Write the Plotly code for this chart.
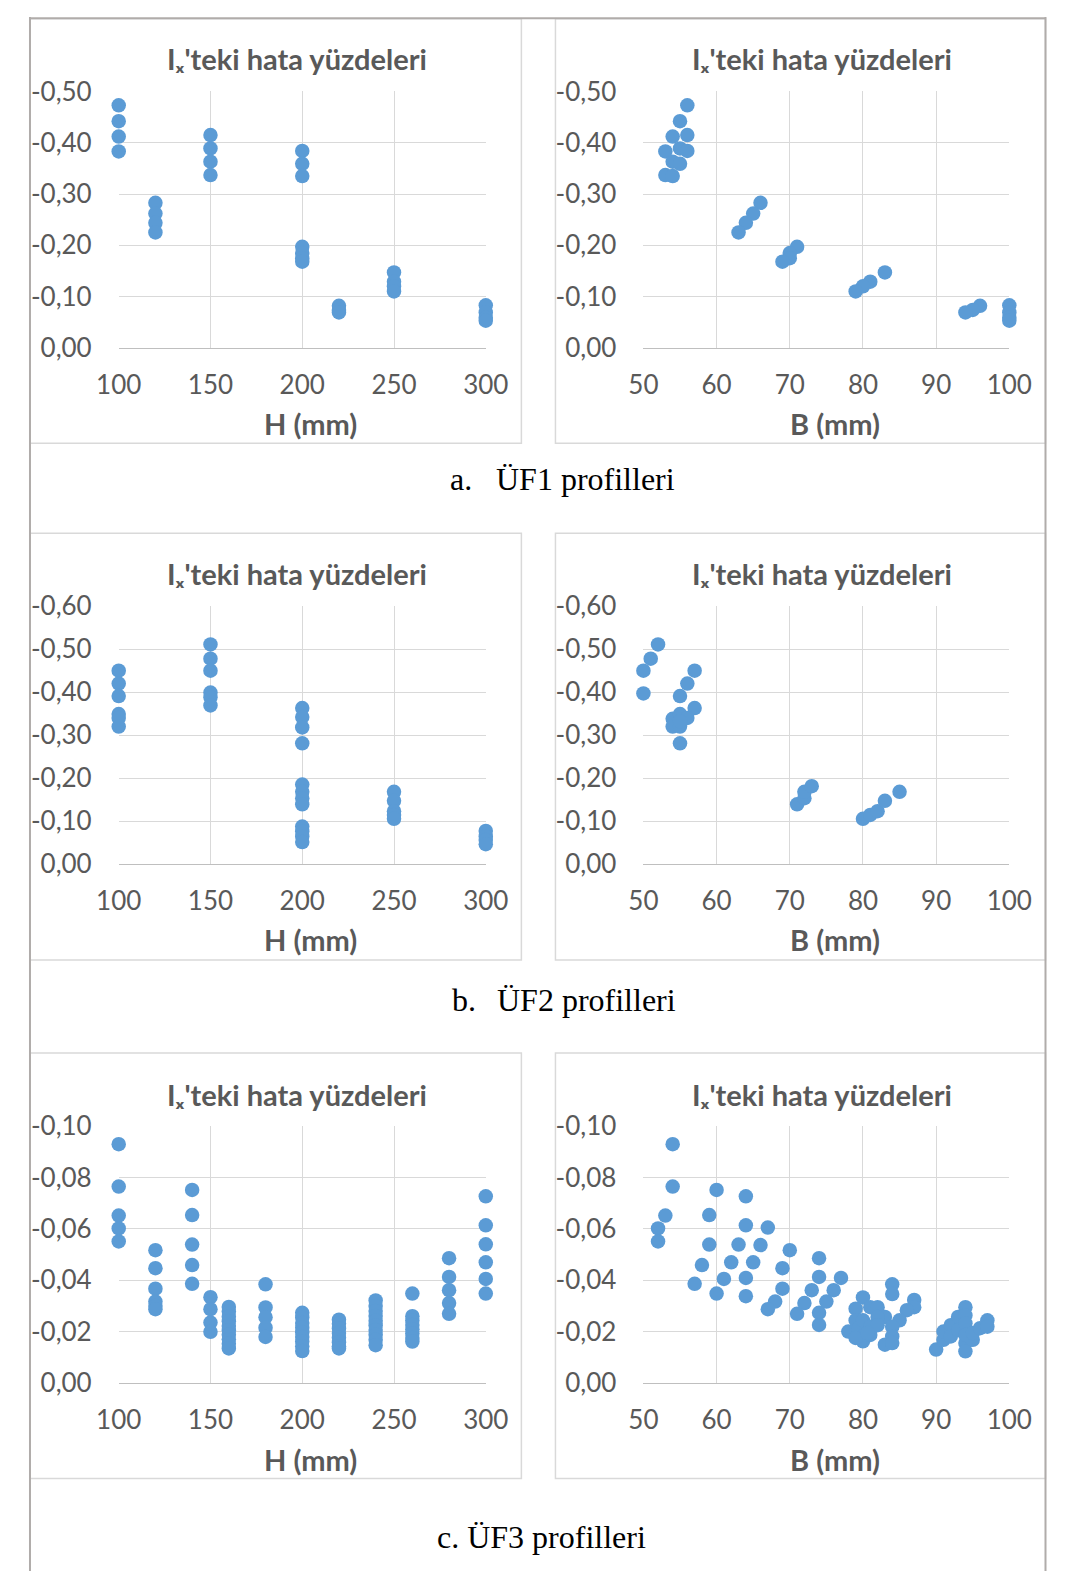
import plotly.graph_objects as go

W, H = 1073, 1586

# ---------------- data ----------------
# ÜF1 profiles (same profiles shown against H and against B)
uf1_H = [100, 100, 100, 100, 120, 120, 120, 120, 150, 150, 150, 150,
         200, 200, 200, 200, 200, 200, 200, 220, 220, 220,
         250, 250, 250, 250, 300, 300, 300, 300]
uf1_B = [56, 55, 54, 53, 66, 65, 64, 63, 56, 55, 54, 53,
         56, 55, 54, 71, 70, 70, 69, 96, 95, 94,
         83, 81, 80, 79, 100, 100, 100, 100]
uf1_err = [-0.473, -0.442, -0.412, -0.383, -0.283, -0.262, -0.244, -0.225,
           -0.415, -0.389, -0.363, -0.337, -0.384, -0.359, -0.335,
           -0.197, -0.185, -0.175, -0.168, -0.082, -0.074, -0.069,
           -0.147, -0.129, -0.120, -0.110, -0.083, -0.069, -0.059, -0.053]

# ÜF2 profiles vs H
uf2_H = [100, 100, 100, 100, 100, 100,
         150, 150, 150, 150, 150, 150,
         200, 200, 200, 200, 200, 200, 200, 200, 200, 200, 200, 200,
         250, 250, 250, 250, 250,
         300, 300, 300, 300]
uf2_H_err = [-0.450, -0.420, -0.391, -0.349, -0.340, -0.320,
             -0.511, -0.478, -0.450, -0.399, -0.388, -0.369,
             -0.363, -0.342, -0.318, -0.281, -0.185, -0.168, -0.153, -0.139,
             -0.087, -0.076, -0.064, -0.051,
             -0.168, -0.147, -0.123, -0.114, -0.105,
             -0.077, -0.064, -0.056, -0.046]

# ÜF2 profiles vs B
uf2_B = [52, 51, 50, 50, 57, 56, 55, 57, 54, 55, 56, 54, 55, 55, 55,
         71, 72, 72, 73, 80, 81, 82, 83, 85]
uf2_B_err = [-0.511, -0.478, -0.450, -0.397, -0.450, -0.420, -0.391, -0.363,
             -0.338, -0.349, -0.340, -0.320, -0.320, -0.332, -0.281,
             -0.139, -0.153, -0.168, -0.181, -0.105, -0.114, -0.123, -0.147, -0.168]

# ÜF3 profiles vs H
uf3_H = ([100] * 5 + [120] * 6 + [140] * 5 + [150] * 4 + [160] * 10 + [180] * 5 +
         [200] * 9 + [220] * 8 + [240] * 10 + [260] * 8 + [280] * 5 + [300] * 6)
uf3_H_err = [-0.0930, -0.0765, -0.0652, -0.0602, -0.0551,
             -0.0517, -0.0447, -0.0367, -0.0317, -0.0300, -0.0287,
             -0.0752, -0.0654, -0.0539, -0.0459, -0.0386,
             -0.0334, -0.0287, -0.0235, -0.0199,
             -0.0296, -0.0278, -0.0258, -0.0240, -0.0222, -0.0205, -0.0188, -0.0170, -0.0152, -0.0134,
             -0.0384, -0.0294, -0.0256, -0.0215, -0.0179,
             -0.0273, -0.0255, -0.0233, -0.0215, -0.0197, -0.0179, -0.0161, -0.0143, -0.0124,
             -0.0246, -0.0230, -0.0212, -0.0194, -0.0176, -0.0158, -0.0143, -0.0134,
             -0.0321, -0.0300, -0.0280, -0.0261, -0.0242, -0.0224, -0.0206, -0.0188, -0.0168, -0.0147,
             -0.0348, -0.0260, -0.0243, -0.0226, -0.0209, -0.0192, -0.0175, -0.0161,
             -0.0486, -0.0413, -0.0361, -0.0311, -0.0269,
             -0.0727, -0.0614, -0.0540, -0.0470, -0.0405, -0.0348]

# ÜF3 profiles vs B
uf3_B = [54, 54, 53, 52, 52,
         60, 59, 59, 58, 57,
         64, 64, 63, 62, 61, 60,
         67, 66, 65, 64, 64,
         70, 69, 69, 68, 67,
         74, 74, 73, 72, 71,
         77, 76, 75, 74, 74,
         84, 84, 80, 79, 81, 82, 83, 87, 87, 86, 85, 84, 84, 83, 84,
         78, 79, 79.4, 80, 80, 80, 81, 81, 82, 82, 79, 80.6,
         90, 91, 91, 92, 92, 93, 93, 94, 94, 94, 94, 94, 94, 95, 95, 96, 97, 97]
uf3_B_err = [-0.0930, -0.0765, -0.0652, -0.0602, -0.0551,
             -0.0752, -0.0654, -0.0539, -0.0459, -0.0386,
             -0.0727, -0.0614, -0.0539, -0.0470, -0.0405, -0.0348,
             -0.0605, -0.0537, -0.0470, -0.0409, -0.0338,
             -0.0517, -0.0447, -0.0367, -0.0317, -0.0287,
             -0.0486, -0.0413, -0.0361, -0.0311, -0.0269,
             -0.0409, -0.0361, -0.0317, -0.0273, -0.0226,
             -0.0384, -0.0346, -0.0333, -0.0289, -0.0295, -0.0295, -0.0257, -0.0323, -0.0295,
             -0.0283, -0.0244, -0.0219, -0.0181, -0.0149, -0.0155,
             -0.0200, -0.0244, -0.0213, -0.0244, -0.0181, -0.0162, -0.0219, -0.0187, -0.0257,
             -0.0225, -0.0175, -0.0194,
             -0.0130, -0.0168, -0.0200, -0.0225, -0.0181, -0.0257, -0.0206, -0.0295, -0.0263,
             -0.0232, -0.0155, -0.0123, -0.0187, -0.0168, -0.0194, -0.0213, -0.0244, -0.0219]

H_ticks = [100, 150, 200, 250, 300]
H_ticktext = ["100", "150", "200", "250", "300"]
B_ticks = [50, 60, 70, 80, 90, 100]
B_ticktext = ["50", "60", "70", "80", "90", "100"]
Y1_ticks = [0, -0.1, -0.2, -0.3, -0.4, -0.5]
Y1_ticktext = ["0,00", "-0,10", "-0,20", "-0,30", "-0,40", "-0,50"]
Y2_ticks = [0, -0.1, -0.2, -0.3, -0.4, -0.5, -0.6]
Y2_ticktext = ["0,00", "-0,10", "-0,20", "-0,30", "-0,40", "-0,50", "-0,60"]
Y3_ticks = [0, -0.02, -0.04, -0.06, -0.08, -0.10]
Y3_ticktext = ["0,00", "-0,02", "-0,04", "-0,06", "-0,08", "-0,10"]

chart_title = "Iₓ'teki hata yüzdeleri"
x_titles = ["H (mm)", "B (mm)"]
captions = [("a.", "ÜF1 profilleri"), ("b.", "ÜF2 profilleri"), ("c.", "ÜF3 profilleri")]

# ---------------- layout helpers (pixel geometry) ----------------
def fx(p):
    return p / W

def fy(p):
    return 1 - p / H

cols = [(100, 483.5), (648.2, 1030.5)]
rows = [(76, 337.7), (601.4, 864.4), (1132.1, 1394)]
title_y = [42, 568, 1099.5]
xtitle_y = [415, 941.2, 1471.7]
title_x = [286.7, 834.9]
xtitle_x = [300, 848]
frame_rows = [(1.7, 435), (527, 962.5), (1057.3, 1491.7)]
frame_cols = [(7.3, 520.7), (556.3, 1068.3)]
caption_y = [472, 1003.7, 1551]

panels = [
    (uf1_H, uf1_err, 0, 0, [100, 300], H_ticks, H_ticktext, [0, -0.5], Y1_ticks, Y1_ticktext),
    (uf1_B, uf1_err, 0, 1, [50, 100], B_ticks, B_ticktext, [0, -0.5], Y1_ticks, Y1_ticktext),
    (uf2_H, uf2_H_err, 1, 0, [100, 300], H_ticks, H_ticktext, [0, -0.6], Y2_ticks, Y2_ticktext),
    (uf2_B, uf2_B_err, 1, 1, [50, 100], B_ticks, B_ticktext, [0, -0.6], Y2_ticks, Y2_ticktext),
    (uf3_H, uf3_H_err, 2, 0, [100, 300], H_ticks, H_ticktext, [0, -0.1], Y3_ticks, Y3_ticktext),
    (uf3_B, uf3_B_err, 2, 1, [50, 100], B_ticks, B_ticktext, [0, -0.1], Y3_ticks, Y3_ticktext),
]

BLUE = "#5B9BD5"
GRID = "#D9D9D9"
TXT = "#595959"
FONT = "Lato"

fig = go.Figure()
layout = dict(
    width=W, height=H,
    margin=dict(l=0, r=0, t=0, b=0),
    paper_bgcolor="white", plot_bgcolor="white",
    showlegend=False,
    font=dict(family=FONT, color=TXT),
)
annotations = []
shapes = []
bold_font = dict(family=FONT, size=29, color=TXT, weight="bold")

for i, (xs, ys, r, c, xr, xt, xtt, yr, yt, ytt) in enumerate(panels):
    n = "" if i == 0 else str(i + 1)
    fig.add_trace(go.Scatter(
        x=xs, y=ys, mode="markers", xaxis="x" + n, yaxis="y" + n,
        marker=dict(size=14.5, color=BLUE, line=dict(width=0)),
        cliponaxis=False, hoverinfo="skip",
    ))
    x0, x1 = cols[c]
    y0, y1 = rows[r]
    layout["xaxis" + n] = dict(
        domain=[fx(x0), fx(x1)], anchor="y" + n, range=xr,
        tickmode="array", tickvals=xt, ticktext=xtt,
        showgrid=True, gridcolor=GRID, gridwidth=1,
        zeroline=False, showline=True, linecolor="#BFBFBF", linewidth=1,
        ticks="", ticklabelstandoff=14, fixedrange=True,
        tickfont=dict(family=FONT, size=26, color=TXT),
    )
    layout["yaxis" + n] = dict(
        domain=[fy(y1), fy(y0)], anchor="x" + n, range=yr,
        tickmode="array", tickvals=yt, ticktext=ytt,
        showgrid=True, gridcolor=GRID, gridwidth=1,
        zeroline=False, showline=False,
        ticks="", ticklabelstandoff=26, fixedrange=True,
        tickfont=dict(family=FONT, size=26, color=TXT),
    )
    annotations.append(dict(
        text=chart_title, x=fx(title_x[c]), y=fy(title_y[r]),
        xref="paper", yref="paper", xanchor="center", yanchor="middle",
        showarrow=False, font=bold_font,
    ))
    annotations.append(dict(
        text=x_titles[c], x=fx(xtitle_x[c]), y=fy(xtitle_y[r]),
        xref="paper", yref="paper", xanchor="center", yanchor="middle",
        showarrow=False, font=bold_font,
    ))

# captions
cap_font = dict(family="Liberation Serif", size=32, color="black")
annotations.append(dict(text=captions[0][0], x=fx(444), y=fy(caption_y[0]), xref="paper", yref="paper",
                        xanchor="left", yanchor="middle", showarrow=False, font=cap_font))
annotations.append(dict(text=captions[0][1], x=fx(492), y=fy(caption_y[0]), xref="paper", yref="paper",
                        xanchor="left", yanchor="middle", showarrow=False, font=cap_font))
annotations.append(dict(text=captions[1][0], x=fx(446), y=fy(caption_y[1]), xref="paper", yref="paper",
                        xanchor="left", yanchor="middle", showarrow=False, font=cap_font))
annotations.append(dict(text=captions[1][1], x=fx(493), y=fy(caption_y[1]), xref="paper", yref="paper",
                        xanchor="left", yanchor="middle", showarrow=False, font=cap_font))
annotations.append(dict(text=captions[2][0] + " " + captions[2][1], x=fx(430), y=fy(caption_y[2]),
                        xref="paper", yref="paper", xanchor="left", yanchor="middle",
                        showarrow=False, font=cap_font))

# chart frames
for (fy0, fy1) in frame_rows:
    for (fx0, fx1) in frame_cols:
        shapes.append(dict(type="rect", xref="paper", yref="paper",
                           x0=fx(fx0), x1=fx(fx1), y0=fy(fy1), y1=fy(fy0),
                           line=dict(color=GRID, width=1.5), fillcolor="rgba(0,0,0,0)", layer="below"))

# table border
BORDER = "#B0ACAA"
shapes.append(dict(type="line", xref="paper", yref="paper", x0=fx(7.3), x1=fx(7.3), y0=0, y1=1,
                   line=dict(color=BORDER, width=2)))
shapes.append(dict(type="line", xref="paper", yref="paper", x0=fx(1068.3), x1=fx(1068.3), y0=0, y1=1,
                   line=dict(color=BORDER, width=2)))
shapes.append(dict(type="line", xref="paper", yref="paper", x0=fx(7.3), x1=fx(1068.3), y0=fy(1.2), y1=fy(1.2),
                   line=dict(color=BORDER, width=2)))

layout["annotations"] = annotations
layout["shapes"] = shapes
fig.update_layout(**layout)
fig.write_html(
    "out.html",
    config={"staticPlot": True, "displayModeBar": False},
    post_script=("document.documentElement.style.margin='0';"
                 "document.body.style.margin='0';document.body.style.padding='0';"
                 "document.body.style.overflow='hidden';"),
)
